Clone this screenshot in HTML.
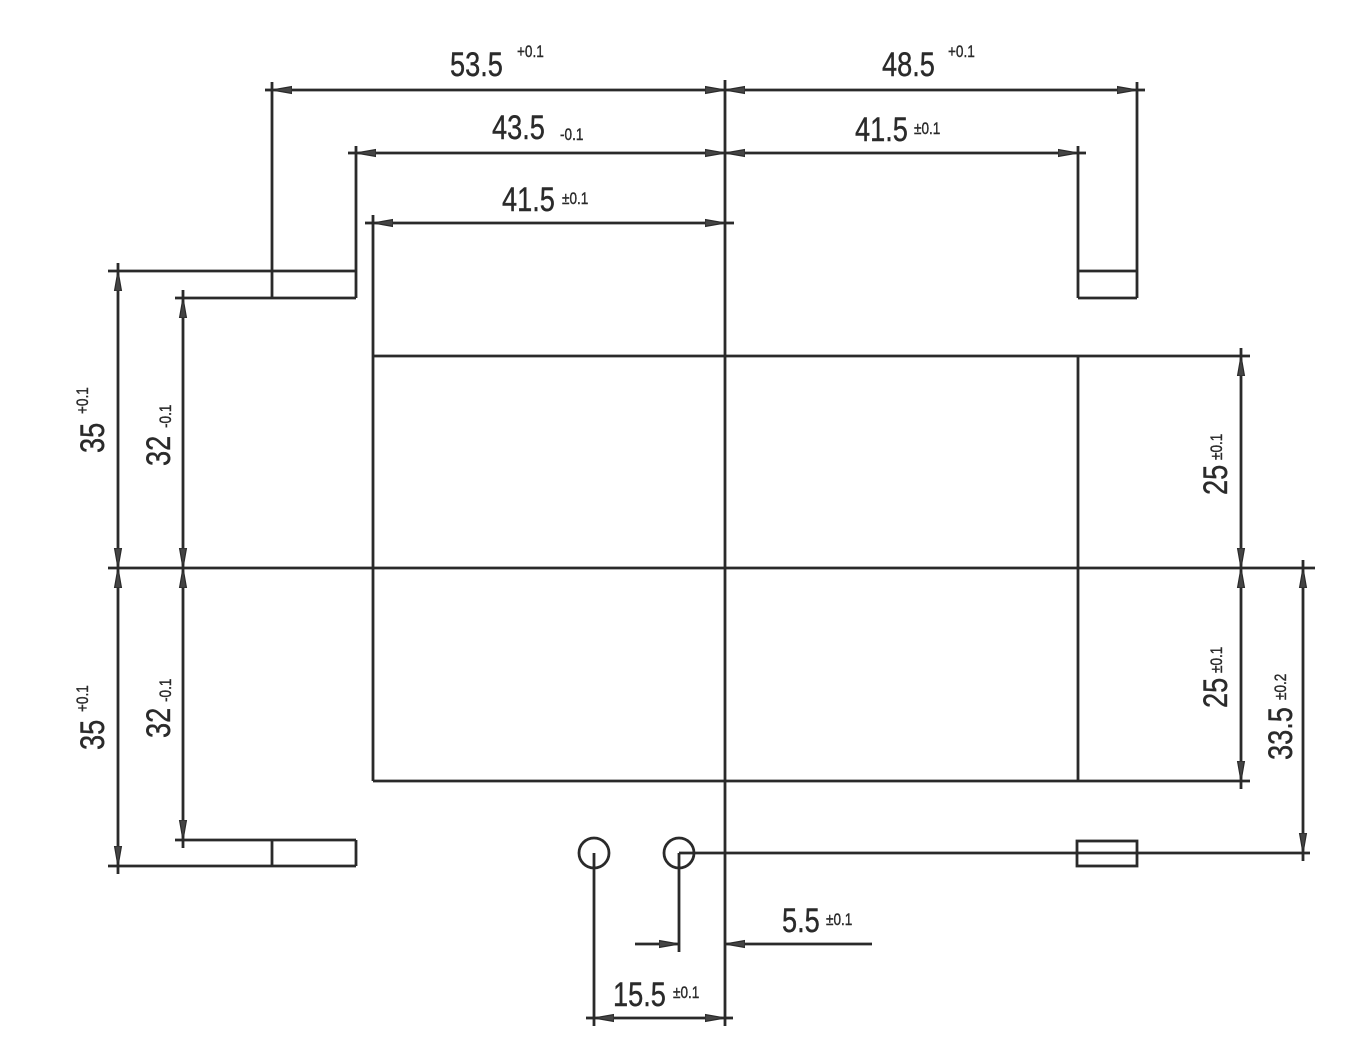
<!DOCTYPE html>
<html><head><meta charset="utf-8"><style>
html,body{margin:0;padding:0;background:#fff}
svg{display:block}
text{font-family:"Liberation Sans",sans-serif;fill:#2a2a2a;stroke:#2a2a2a;stroke-width:0.4}
</style></head><body>
<svg width="1350" height="1050" viewBox="0 0 1350 1050" xmlns="http://www.w3.org/2000/svg">
<defs>
<marker id="a" viewBox="0 0 20 10" refX="20" refY="5" markerWidth="20" markerHeight="10" markerUnits="userSpaceOnUse" orient="auto-start-reverse">
<path d="M20,5 L0,1.5 L0,8.5 Z" fill="#444" stroke="#2a2a2a" stroke-width="1.2"/>
</marker>
</defs>
<g stroke="#2a2a2a" stroke-width="2.8" fill="none">
<line x1="725" y1="80" x2="725" y2="1026"/>
<line x1="108" y1="568" x2="1315" y2="568"/>
<line x1="373" y1="215" x2="373" y2="781"/>
<line x1="373" y1="356" x2="1250" y2="356"/>
<line x1="373" y1="781" x2="1250" y2="781"/>
<line x1="1078" y1="356" x2="1078" y2="781"/>
<line x1="272" y1="82" x2="272" y2="298"/>
<line x1="1137" y1="82" x2="1137" y2="298"/>
<line x1="356" y1="146" x2="356" y2="298"/>
<line x1="1078" y1="146" x2="1078" y2="298"/>
<line x1="108" y1="271" x2="356" y2="271"/>
<line x1="175" y1="298" x2="356" y2="298"/>
<line x1="1078" y1="271" x2="1137" y2="271"/>
<line x1="1078" y1="298" x2="1137" y2="298"/>
<line x1="175" y1="840" x2="356" y2="840"/>
<line x1="108" y1="866" x2="356" y2="866"/>
<line x1="272" y1="840" x2="272" y2="866"/>
<line x1="356" y1="840" x2="356" y2="866"/>
<rect x="1077" y="841" width="60" height="25"/>
<circle cx="594" cy="853" r="15"/>
<circle cx="679" cy="853" r="15"/>
<line x1="679" y1="853" x2="1310" y2="853"/>
<line x1="594" y1="853" x2="594" y2="1026"/>
<line x1="679" y1="853" x2="679" y2="952"/>
<line x1="265" y1="90" x2="272" y2="90"/>
<line x1="272" y1="90" x2="725" y2="90" marker-start="url(#a)" marker-end="url(#a)"/>
<line x1="725" y1="90" x2="1137" y2="90" marker-start="url(#a)" marker-end="url(#a)"/>
<line x1="1137" y1="90" x2="1145" y2="90"/>
<line x1="348" y1="153" x2="356" y2="153"/>
<line x1="356" y1="153" x2="725" y2="153" marker-start="url(#a)" marker-end="url(#a)"/>
<line x1="725" y1="153" x2="1078" y2="153" marker-start="url(#a)" marker-end="url(#a)"/>
<line x1="1078" y1="153" x2="1086" y2="153"/>
<line x1="365" y1="223" x2="373" y2="223"/>
<line x1="373" y1="223" x2="725" y2="223" marker-start="url(#a)" marker-end="url(#a)"/>
<line x1="725" y1="223" x2="734" y2="223"/>
<line x1="118" y1="271" x2="118" y2="568" marker-start="url(#a)" marker-end="url(#a)"/>
<line x1="118" y1="568" x2="118" y2="866" marker-start="url(#a)" marker-end="url(#a)"/>
<line x1="118" y1="866" x2="118" y2="874"/>
<line x1="118" y1="263" x2="118" y2="271"/>
<line x1="183" y1="298" x2="183" y2="568" marker-start="url(#a)" marker-end="url(#a)"/>
<line x1="183" y1="568" x2="183" y2="840" marker-start="url(#a)" marker-end="url(#a)"/>
<line x1="183" y1="290" x2="183" y2="298"/>
<line x1="183" y1="840" x2="183" y2="848"/>
<line x1="1241" y1="356" x2="1241" y2="568" marker-start="url(#a)" marker-end="url(#a)"/>
<line x1="1241" y1="568" x2="1241" y2="781" marker-start="url(#a)" marker-end="url(#a)"/>
<line x1="1241" y1="348" x2="1241" y2="356"/>
<line x1="1241" y1="781" x2="1241" y2="789"/>
<line x1="1303" y1="568" x2="1303" y2="853" marker-start="url(#a)" marker-end="url(#a)"/>
<line x1="1303" y1="560" x2="1303" y2="568"/>
<line x1="1303" y1="853" x2="1303" y2="861"/>
<line x1="635" y1="944" x2="679" y2="944" marker-end="url(#a)"/>
<line x1="872" y1="944" x2="725" y2="944" marker-end="url(#a)"/>
<line x1="594" y1="1018" x2="725" y2="1018" marker-start="url(#a)" marker-end="url(#a)"/>
<line x1="586" y1="1018" x2="594" y2="1018"/>
<line x1="725" y1="1018" x2="733" y2="1018"/>
</g>
<g>
<text transform="translate(450,76) scale(0.8,1)" font-size="34">53.5</text>
<text transform="translate(517,57) scale(0.8,1)" font-size="17">+0.1</text>
<text transform="translate(882,76) scale(0.8,1)" font-size="34">48.5</text>
<text transform="translate(948,57) scale(0.8,1)" font-size="17">+0.1</text>
<text transform="translate(492,139) scale(0.8,1)" font-size="34">43.5</text>
<text transform="translate(560,140) scale(0.8,1)" font-size="17">-0.1</text>
<text transform="translate(855,141) scale(0.8,1)" font-size="34">41.5</text>
<text transform="translate(914,134) scale(0.8,1)" font-size="17">±0.1</text>
<text transform="translate(502,211) scale(0.8,1)" font-size="34">41.5</text>
<text transform="translate(562,204) scale(0.8,1)" font-size="17">±0.1</text>
<text transform="translate(782,932) scale(0.8,1)" font-size="34">5.5</text>
<text transform="translate(826,925) scale(0.8,1)" font-size="17">±0.1</text>
<text transform="translate(613,1006) scale(0.8,1)" font-size="34">15.5</text>
<text transform="translate(673,998) scale(0.8,1)" font-size="17">±0.1</text>
<text transform="translate(104,453) rotate(-90) scale(0.8,1)" font-size="34">35</text>
<text transform="translate(88,414) rotate(-90) scale(0.8,1)" font-size="17">+0.1</text>
<text transform="translate(170,466) rotate(-90) scale(0.8,1)" font-size="34">32</text>
<text transform="translate(171,428) rotate(-90) scale(0.8,1)" font-size="17">-0.1</text>
<text transform="translate(104,750) rotate(-90) scale(0.8,1)" font-size="34">35</text>
<text transform="translate(88,712) rotate(-90) scale(0.8,1)" font-size="17">+0.1</text>
<text transform="translate(170,738) rotate(-90) scale(0.8,1)" font-size="34">32</text>
<text transform="translate(171,702) rotate(-90) scale(0.8,1)" font-size="17">-0.1</text>
<text transform="translate(1227,495) rotate(-90) scale(0.8,1)" font-size="34">25</text>
<text transform="translate(1222,460) rotate(-90) scale(0.8,1)" font-size="17">±0.1</text>
<text transform="translate(1227,708) rotate(-90) scale(0.8,1)" font-size="34">25</text>
<text transform="translate(1222,673) rotate(-90) scale(0.8,1)" font-size="17">±0.1</text>
<text transform="translate(1292,760) rotate(-90) scale(0.8,1)" font-size="34">33.5</text>
<text transform="translate(1286,700) rotate(-90) scale(0.8,1)" font-size="17">±0.2</text>
</g>
</svg>
</body></html>
